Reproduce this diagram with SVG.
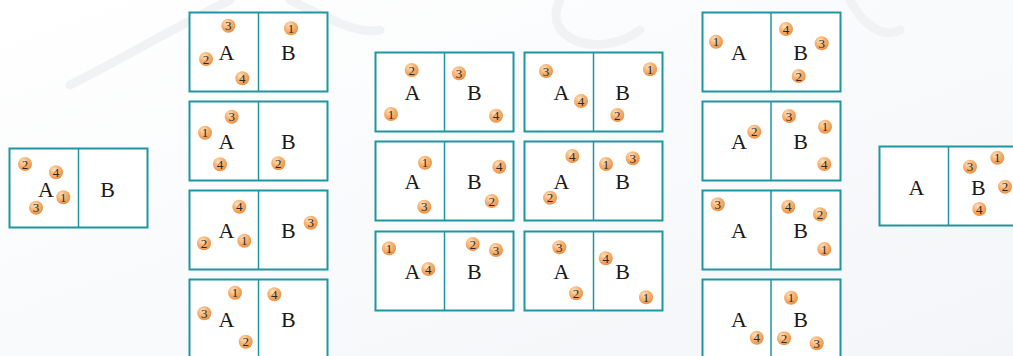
<svg xmlns="http://www.w3.org/2000/svg" width="1013" height="356" viewBox="0 0 1013 356">
<defs>
<linearGradient id="bg" x1="0" y1="0" x2="1" y2="1">
<stop offset="0" stop-color="#ffffff"/>
<stop offset="1" stop-color="#f3f5f8"/>
</linearGradient>
<radialGradient id="ballg" cx="0.38" cy="0.32" r="0.7">
<stop offset="0" stop-color="#fee4c6"/>
<stop offset="0.45" stop-color="#f8b676"/>
<stop offset="1" stop-color="#ee8f42"/>
</radialGradient>
<style>
.box rect{fill:#ffffff;stroke:#1e96a2;stroke-width:2}
.box line{stroke:#1e96a2;stroke-width:1.5}
.lbl{font-family:"Liberation Serif","Times New Roman",serif;font-size:22px;fill:#1a1a1a;text-anchor:middle}
.ball circle{fill:url(#ballg)}
.ball text{font-family:"Liberation Serif","Times New Roman",serif;font-size:13px;fill:#2a2a2a;text-anchor:middle}
</style>
</defs>
<rect x="0" y="0" width="1013" height="356" fill="url(#bg)"/>
<g id="watermark" fill="none" stroke="#f1f2f4" stroke-width="9" stroke-linecap="round">
<path d="M70 85 C120 60 170 30 230 0"/>
<path d="M290 0 C330 20 360 35 380 30"/>
<path d="M560 0 C540 40 600 60 640 30"/>
<path d="M850 0 C860 20 880 40 900 30"/>
</g>

<g id="box-left" class="box">
<rect x="9.5" y="148.5" width="138" height="79"/><line x1="78.5" y1="148.5" x2="78.5" y2="227.5"/>
<text class="lbl" x="46" y="196.5">A</text><text class="lbl" x="107.5" y="196.5">B</text>
<g class="ball" transform="translate(25,164)"><circle r="7"/><text y="4.5">2</text></g>
<g class="ball" transform="translate(56,172.3)"><circle r="7"/><text y="4.5">4</text></g>
<g class="ball" transform="translate(63.3,197.3)"><circle r="7"/><text y="4.5">1</text></g>
<g class="ball" transform="translate(36,207.7)"><circle r="7"/><text y="4.5">3</text></g>
</g>

<g id="box-c2r1" class="box">
<rect x="189.5" y="12.5" width="138" height="79"/><line x1="258.5" y1="12.5" x2="258.5" y2="91.5"/>
<text class="lbl" x="226.5" y="59.5">A</text><text class="lbl" x="288.3" y="59.5">B</text>
<g class="ball" transform="translate(228.3,25.7)"><circle r="7"/><text y="4.5">3</text></g>
<g class="ball" transform="translate(206,59)"><circle r="7"/><text y="4.5">2</text></g>
<g class="ball" transform="translate(242.3,78.3)"><circle r="7"/><text y="4.5">4</text></g>
<g class="ball" transform="translate(291,28.3)"><circle r="7"/><text y="4.5">1</text></g>
</g>

<g id="box-c2r2" class="box">
<rect x="189.5" y="101.5" width="138" height="79"/><line x1="258.5" y1="101.5" x2="258.5" y2="180.5"/>
<text class="lbl" x="226.5" y="148.5">A</text><text class="lbl" x="288.3" y="148.5">B</text>
<g class="ball" transform="translate(231.7,116.7)"><circle r="7"/><text y="4.5">3</text></g>
<g class="ball" transform="translate(205,132.7)"><circle r="7"/><text y="4.5">1</text></g>
<g class="ball" transform="translate(220,164.3)"><circle r="7"/><text y="4.5">4</text></g>
<g class="ball" transform="translate(278.3,163.3)"><circle r="7"/><text y="4.5">2</text></g>
</g>

<g id="box-c2r3" class="box">
<rect x="189.5" y="190.5" width="138" height="79"/><line x1="258.5" y1="190.5" x2="258.5" y2="269.5"/>
<text class="lbl" x="226.5" y="237.5">A</text><text class="lbl" x="288.3" y="237.5">B</text>
<g class="ball" transform="translate(239.3,206.7)"><circle r="7"/><text y="4.5">4</text></g>
<g class="ball" transform="translate(244.3,240.7)"><circle r="7"/><text y="4.5">1</text></g>
<g class="ball" transform="translate(204,243.3)"><circle r="7"/><text y="4.5">2</text></g>
<g class="ball" transform="translate(310.7,222.7)"><circle r="7"/><text y="4.5">3</text></g>
</g>

<g id="box-c2r4" class="box">
<rect x="189.5" y="279.5" width="138" height="79"/><line x1="258.5" y1="279.5" x2="258.5" y2="358.5"/>
<text class="lbl" x="226.5" y="326.5">A</text><text class="lbl" x="288.3" y="326.5">B</text>
<g class="ball" transform="translate(235,292.7)"><circle r="7"/><text y="4.5">1</text></g>
<g class="ball" transform="translate(204.3,313.3)"><circle r="7"/><text y="4.5">3</text></g>
<g class="ball" transform="translate(245.7,341.7)"><circle r="7"/><text y="4.5">2</text></g>
<g class="ball" transform="translate(274.3,294.3)"><circle r="7"/><text y="4.5">4</text></g>
</g>

<g id="box-c3r1" class="box">
<rect x="375.5" y="52.5" width="138" height="79"/><line x1="444.5" y1="52.5" x2="444.5" y2="131.5"/>
<text class="lbl" x="412.5" y="99.5">A</text><text class="lbl" x="474.3" y="99.5">B</text>
<g class="ball" transform="translate(411.7,70)"><circle r="7"/><text y="4.5">2</text></g>
<g class="ball" transform="translate(391,114)"><circle r="7"/><text y="4.5">1</text></g>
<g class="ball" transform="translate(459,73.3)"><circle r="7"/><text y="4.5">3</text></g>
<g class="ball" transform="translate(496,115.7)"><circle r="7"/><text y="4.5">4</text></g>
</g>

<g id="box-c4r1" class="box">
<rect x="524.5" y="52.5" width="138" height="79"/><line x1="593.5" y1="52.5" x2="593.5" y2="131.5"/>
<text class="lbl" x="561.5" y="99.5">A</text><text class="lbl" x="622.7" y="99.5">B</text>
<g class="ball" transform="translate(546,71)"><circle r="7"/><text y="4.5">3</text></g>
<g class="ball" transform="translate(581,101)"><circle r="7"/><text y="4.5">4</text></g>
<g class="ball" transform="translate(650,69.3)"><circle r="7"/><text y="4.5">1</text></g>
<g class="ball" transform="translate(617.3,115)"><circle r="7"/><text y="4.5">2</text></g>
</g>

<g id="box-c3r2" class="box">
<rect x="375.5" y="141.5" width="138" height="79"/><line x1="444.5" y1="141.5" x2="444.5" y2="220.5"/>
<text class="lbl" x="412.5" y="189">A</text><text class="lbl" x="474.3" y="189">B</text>
<g class="ball" transform="translate(425,162.7)"><circle r="7"/><text y="4.5">1</text></g>
<g class="ball" transform="translate(499.3,166.7)"><circle r="7"/><text y="4.5">4</text></g>
<g class="ball" transform="translate(424.3,206.7)"><circle r="7"/><text y="4.5">3</text></g>
<g class="ball" transform="translate(491.7,201)"><circle r="7"/><text y="4.5">2</text></g>
</g>

<g id="box-c4r2" class="box">
<rect x="524.5" y="141.5" width="138" height="79"/><line x1="593.5" y1="141.5" x2="593.5" y2="220.5"/>
<text class="lbl" x="561.5" y="189">A</text><text class="lbl" x="622.7" y="189">B</text>
<g class="ball" transform="translate(572.3,156)"><circle r="7"/><text y="4.5">4</text></g>
<g class="ball" transform="translate(606,164)"><circle r="7"/><text y="4.5">1</text></g>
<g class="ball" transform="translate(632.7,158.3)"><circle r="7"/><text y="4.5">3</text></g>
<g class="ball" transform="translate(550,197.7)"><circle r="7"/><text y="4.5">2</text></g>
</g>

<g id="box-c3r3" class="box">
<rect x="375.5" y="231.5" width="138" height="79"/><line x1="444.5" y1="231.5" x2="444.5" y2="310.5"/>
<text class="lbl" x="412.5" y="278.5">A</text><text class="lbl" x="474.3" y="278.5">B</text>
<g class="ball" transform="translate(389,248.3)"><circle r="7"/><text y="4.5">1</text></g>
<g class="ball" transform="translate(428.3,269)"><circle r="7"/><text y="4.5">4</text></g>
<g class="ball" transform="translate(472.7,244)"><circle r="7"/><text y="4.5">2</text></g>
<g class="ball" transform="translate(496,250)"><circle r="7"/><text y="4.5">3</text></g>
</g>

<g id="box-c4r3" class="box">
<rect x="524.5" y="231.5" width="138" height="79"/><line x1="593.5" y1="231.5" x2="593.5" y2="310.5"/>
<text class="lbl" x="561.5" y="278.5">A</text><text class="lbl" x="622.7" y="278.5">B</text>
<g class="ball" transform="translate(559.3,247.3)"><circle r="7"/><text y="4.5">3</text></g>
<g class="ball" transform="translate(576,293.3)"><circle r="7"/><text y="4.5">2</text></g>
<g class="ball" transform="translate(605.7,258.3)"><circle r="7"/><text y="4.5">4</text></g>
<g class="ball" transform="translate(646,297.3)"><circle r="7"/><text y="4.5">1</text></g>
</g>

<g id="box-c5r1" class="box">
<rect x="702.5" y="12.5" width="138" height="79"/><line x1="771" y1="12.5" x2="771" y2="91.5"/>
<text class="lbl" x="739" y="59.5">A</text><text class="lbl" x="800.7" y="59.5">B</text>
<g class="ball" transform="translate(716,41.7)"><circle r="7"/><text y="4.5">1</text></g>
<g class="ball" transform="translate(786,29)"><circle r="7"/><text y="4.5">4</text></g>
<g class="ball" transform="translate(821.7,43.3)"><circle r="7"/><text y="4.5">3</text></g>
<g class="ball" transform="translate(798.7,76)"><circle r="7"/><text y="4.5">2</text></g>
</g>

<g id="box-c5r2" class="box">
<rect x="702.5" y="101.5" width="138" height="79"/><line x1="771" y1="101.5" x2="771" y2="180.5"/>
<text class="lbl" x="739" y="148.5">A</text><text class="lbl" x="800.7" y="148.5">B</text>
<g class="ball" transform="translate(754.3,131.7)"><circle r="7"/><text y="4.5">2</text></g>
<g class="ball" transform="translate(789,116)"><circle r="7"/><text y="4.5">3</text></g>
<g class="ball" transform="translate(825,126.7)"><circle r="7"/><text y="4.5">1</text></g>
<g class="ball" transform="translate(824.3,164)"><circle r="7"/><text y="4.5">4</text></g>
</g>

<g id="box-c5r3" class="box">
<rect x="702.5" y="190.5" width="138" height="79"/><line x1="771" y1="190.5" x2="771" y2="269.5"/>
<text class="lbl" x="739" y="237.5">A</text><text class="lbl" x="800.7" y="237.5">B</text>
<g class="ball" transform="translate(717.7,204.3)"><circle r="7"/><text y="4.5">3</text></g>
<g class="ball" transform="translate(788.3,206.7)"><circle r="7"/><text y="4.5">4</text></g>
<g class="ball" transform="translate(820,214.3)"><circle r="7"/><text y="4.5">2</text></g>
<g class="ball" transform="translate(824.3,249)"><circle r="7"/><text y="4.5">1</text></g>
</g>

<g id="box-c5r4" class="box">
<rect x="702.5" y="279.5" width="138" height="79"/><line x1="771" y1="279.5" x2="771" y2="358.5"/>
<text class="lbl" x="739" y="326.5">A</text><text class="lbl" x="800.7" y="326.5">B</text>
<g class="ball" transform="translate(791,297.7)"><circle r="7"/><text y="4.5">1</text></g>
<g class="ball" transform="translate(756.7,337.7)"><circle r="7"/><text y="4.5">4</text></g>
<g class="ball" transform="translate(784,338.3)"><circle r="7"/><text y="4.5">2</text></g>
<g class="ball" transform="translate(816.7,343.3)"><circle r="7"/><text y="4.5">3</text></g>
</g>

<g id="box-right" class="box">
<rect x="879.5" y="146.5" width="138" height="79"/><line x1="948.5" y1="146.5" x2="948.5" y2="225.5"/>
<text class="lbl" x="916.5" y="194.5">A</text><text class="lbl" x="978.3" y="194.5">B</text>
<g class="ball" transform="translate(997.3,157.7)"><circle r="7"/><text y="4.5">1</text></g>
<g class="ball" transform="translate(970,166.7)"><circle r="7"/><text y="4.5">3</text></g>
<g class="ball" transform="translate(1005,186.7)"><circle r="7"/><text y="4.5">2</text></g>
<g class="ball" transform="translate(979.3,209)"><circle r="7"/><text y="4.5">4</text></g>
</g>
</svg>
